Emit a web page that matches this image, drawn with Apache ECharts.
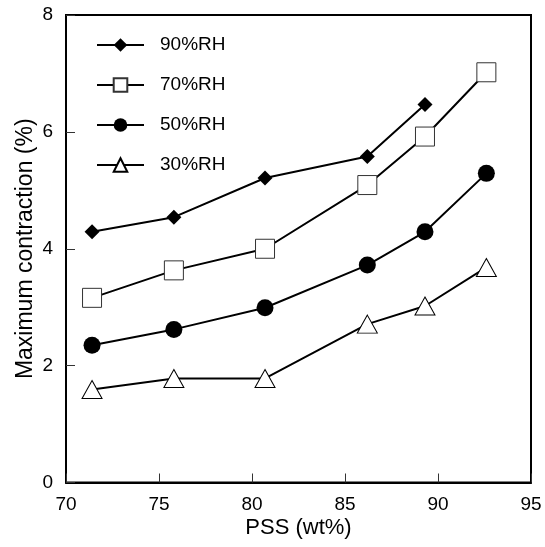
<!DOCTYPE html>
<html>
<head>
<meta charset="utf-8">
<script src="https://cdn.jsdelivr.net/npm/echarts@6/dist/echarts.min.js"></script>
<style>
html,body{margin:0;padding:0;background:#fff;}
#chart{width:545px;height:547px;}
</style>
</head>
<body>
<div id="chart"></div>
<script>
const seriesNames = ['90%RH', '70%RH', '50%RH', '30%RH'];
const pss90 = [71.4, 75.8, 80.7, 86.2, 89.3];
const rh90 = [4.29, 4.54, 5.21, 5.58, 6.47];
const pss70 = [71.4, 75.8, 80.7, 86.2, 89.3, 92.6];
const rh70 = [3.16, 3.63, 4.00, 5.09, 5.92, 7.02];
const pss50 = [71.4, 75.8, 80.7, 86.2, 89.3, 92.6];
const rh50 = [2.35, 2.62, 2.99, 3.72, 4.29, 5.29];
const pss30 = [71.4, 75.8, 80.7, 86.2, 89.3, 92.6];
const rh30 = [1.59, 1.78, 1.78, 2.71, 3.02, 3.68];
const xTicks = [70, 75, 80, 85, 90, 95];
const yTicks = [0, 2, 4, 6, 8];

const FONT = 'Liberation Sans, Arial, sans-serif';
function pairs(xs, ys) { return xs.map((x, i) => [x, ys[i]]); }

const styles = [
  { symbol: 'diamond', symbolSize: 15, itemStyle: { color: '#000', borderColor: '#000', borderWidth: 0 } },
  { symbol: 'rect', symbolSize: 19, itemStyle: { color: '#fff', borderColor: '#333', borderWidth: 1 } },
  { symbol: 'circle', symbolSize: 17, itemStyle: { color: '#000', borderColor: '#000', borderWidth: 0 } },
  { symbol: 'triangle', symbolSize: [20, 18], itemStyle: { color: '#fff', borderColor: '#000', borderWidth: 1 } }
];
const dataSets = [pairs(pss90, rh90), pairs(pss70, rh70), pairs(pss50, rh50), pairs(pss30, rh30)];

const chart = echarts.init(document.getElementById('chart'), null, { renderer: 'canvas' });
chart.setOption({
  animation: false,
  backgroundColor: '#fff',
  textStyle: { fontFamily: FONT, color: '#000' },
  grid: { left: 66, right: 14, top: 15, bottom: 64.5, show: true, borderColor: '#000', borderWidth: 2 },
  legend: {
    left: 91, top: 30.5, orient: 'vertical',
    itemWidth: 47, itemHeight: 17, itemGap: 21,
    textStyle: { fontFamily: FONT, fontSize: 19, color: '#000', padding: [0, 0, 0, 11] },
    data: seriesNames
  },
  xAxis: {
    type: 'value', min: 70, max: 95, interval: 5,
    name: 'PSS (wt%)', nameLocation: 'middle', nameGap: 34, nameMoveOverlap: false,
    nameTextStyle: { fontFamily: FONT, fontSize: 22, color: '#000' },
    axisLine: { show: true, lineStyle: { color: '#000', width: 2 } },
    axisTick: { show: true, inside: true, length: 9, lineStyle: { color: '#333', width: 1 } },
    axisLabel: { fontFamily: FONT, fontSize: 19, color: '#000', margin: 13,
      formatter: v => xTicks.includes(v) ? String(v) : '' },
    splitLine: { show: false }
  },
  yAxis: {
    type: 'value', min: 0, max: 8, interval: 2,
    name: 'Maximum contraction (%)', nameLocation: 'middle', nameGap: 29, nameMoveOverlap: false,
    nameTextStyle: { fontFamily: FONT, fontSize: 23, color: '#000' },
    axisLine: { show: true, lineStyle: { color: '#000', width: 2 } },
    axisTick: { show: true, inside: true, length: 9, lineStyle: { color: '#333', width: 1 } },
    axisLabel: { fontFamily: FONT, fontSize: 19, color: '#000', margin: 13,
      formatter: v => yTicks.includes(v) ? String(v) : '' },
    splitLine: { show: false }
  },
  series: seriesNames.map((name, i) => ({
    name: name,
    type: 'line',
    data: dataSets[i],
    symbol: styles[i].symbol,
    symbolSize: styles[i].symbolSize,
    showAllSymbol: true,
    lineStyle: { color: '#000', width: 2 },
    itemStyle: styles[i].itemStyle,
    z: 2
  }))
});
</script>
</body>
</html>
